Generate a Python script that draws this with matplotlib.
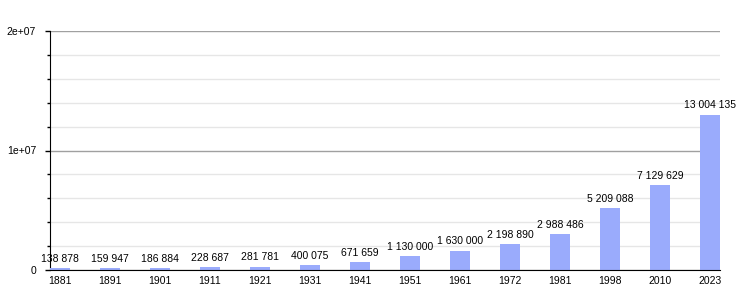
import matplotlib
matplotlib.use("Agg")
import matplotlib.pyplot as plt
import numpy as np

years = ["1881", "1891", "1901", "1911", "1921", "1931", "1941", "1951",
         "1961", "1972", "1981", "1998", "2010", "2023"]
population = [138878, 159947, 186884, 228687, 281781, 400075, 671659, 1130000,
              1630000, 2198890, 2988486, 5209088, 7129629, 13004135]

plt.rcParams['font.family'] = ['Liberation Sans', 'DejaVu Sans']

fig = plt.figure(figsize=(7.5, 3), dpi=100)
ax = fig.add_axes([50/750, 30/300, 670/750, 239/300])

x = np.arange(len(years))
ax.bar(x, population, width=0.4, color="#9aabfc", zorder=3)

for xi, v in zip(x, population):
    lbl = f"{v:,}".replace(",", " ")
    ax.annotate(lbl, (xi, v), xytext=(0, 3), textcoords="offset points",
                ha="center", va="bottom", fontsize=7.5, zorder=4)

ax.set_xlim(-0.2, len(years) - 0.8)
ax.set_ylim(0, 2e7)
ax.set_xticks(x)
ax.set_xticklabels(years, fontsize=7.5)
ax.set_yticks([0, 1e7, 2e7])
ax.set_yticklabels(["0", "1e+07", "2e+07"], fontsize=7.5)
ax.set_yticks(np.arange(0, 2e7 + 1, 2e6), minor=True)
ax.tick_params(axis="x", length=0, pad=4)
ax.tick_params(axis="y", which="major", length=3.6, width=1, pad=6.4)
ax.tick_params(axis="y", which="minor", length=2.2, width=1)

ax.grid(axis="y", which="major", color="#a0a0a0", linewidth=1, zorder=0)
ax.grid(axis="y", which="minor", color="#e6e6e6", linewidth=1, zorder=0)

for s in ["top", "right"]:
    ax.spines[s].set_visible(False)
ax.spines["left"].set_color("black")
ax.spines["bottom"].set_color("black")
ax.spines["bottom"].set_zorder(5)

fig.savefig("out.png", dpi=100)
